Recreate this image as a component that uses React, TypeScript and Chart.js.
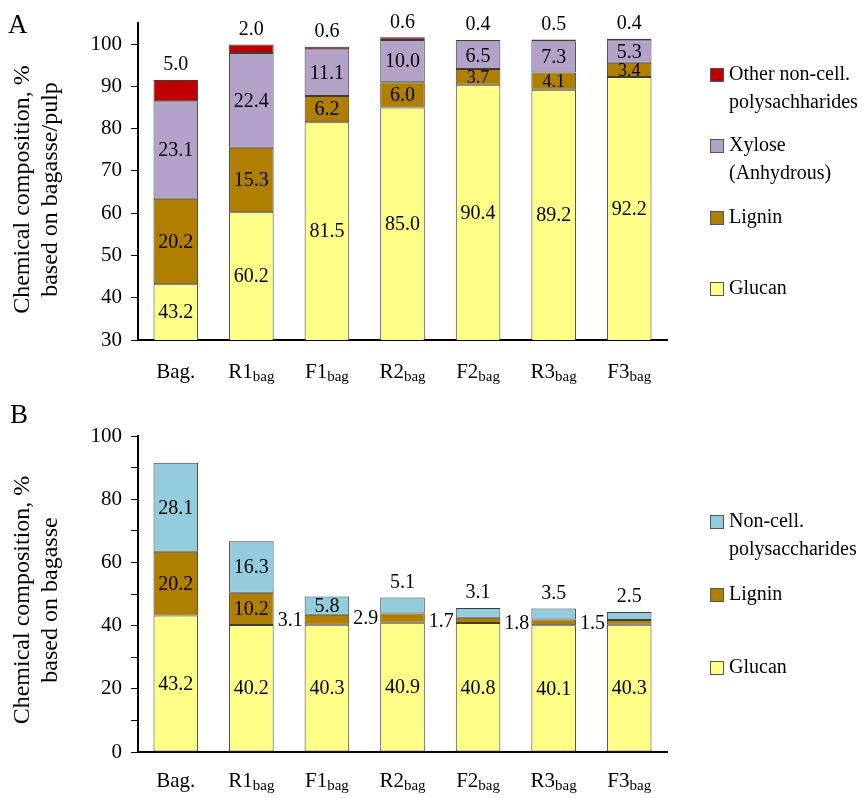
import React, { useEffect, useRef } from 'react';
import { Chart, registerables } from 'chart.js';

Chart.register(...registerables);

// ---------- data ----------
const categories = ['Bag.', 'R1', 'F1', 'R2', 'F2', 'R3', 'F3'];
const categorySubs = ['', 'bag', 'bag', 'bag', 'bag', 'bag', 'bag'];

// Panel A (based on bagasse/pulp)
const glucanA = [43.2, 60.2, 81.5, 85.0, 90.4, 89.2, 92.2];
const ligninA = [20.2, 15.3, 6.2, 6.0, 3.7, 4.1, 3.4];
const xyloseA = [23.1, 22.4, 11.1, 10.0, 6.5, 7.3, 5.3];
const otherA = [5.0, 2.0, 0.6, 0.6, 0.4, 0.5, 0.4];
const ticksA = [30, 40, 50, 60, 70, 80, 90, 100];

// Panel B (based on bagasse)
const glucanB = [43.2, 40.2, 40.3, 40.9, 40.8, 40.1, 40.3];
const ligninB = [20.2, 10.2, 3.1, 2.9, 1.7, 1.8, 1.5];
const noncellB = [28.1, 16.3, 5.8, 5.1, 3.1, 3.5, 2.5];
const ticksB = [0, 10, 20, 30, 40, 50, 60, 70, 80, 90, 100];
const tickLabelsB = [0, 20, 40, 60, 80, 100];

// label placement per bar: in = inside segment, above = over bar top, left = beside bar
const placeGlucanA = ['in', 'in', 'in', 'in', 'in', 'in', 'in'];
const placeLigninA = ['in', 'in', 'in', 'in', 'in', 'in', 'in'];
const placeXyloseA = ['in', 'in', 'in', 'in', 'in', 'in', 'in'];
const placeOtherA = ['above', 'above', 'above', 'above', 'above', 'above', 'above'];
const placeGlucanB = ['in', 'in', 'in', 'in', 'in', 'in', 'in'];
const placeLigninB = ['in', 'in', 'left', 'left', 'left', 'left', 'left'];
const placeNoncellB = ['in', 'in', 'in', 'above', 'above', 'above', 'above'];

const FONT = "'Liberation Serif', 'DejaVu Serif', serif";
const C_GLUCAN = '#FFFF88';
const C_LIGNIN = '#B07F00';
const C_XYLOSE = '#B3A2C7';
const C_OTHER = '#C00000';
const C_NONCELL = '#93CDDD';
const BORDER = '#3c3c3c';

type LegendItem = { color: string; lines: string[]; y: number };

const legendA: LegendItem[] = [
  { color: C_OTHER, lines: ['Other non-cell.', 'polysachharides'], y: 75 },
  { color: C_XYLOSE, lines: ['Xylose', '(Anhydrous)'], y: 146 },
  { color: C_LIGNIN, lines: ['Lignin'], y: 218 },
  { color: C_GLUCAN, lines: ['Glucan'], y: 289 },
];
const legendB: LegendItem[] = [
  { color: C_NONCELL, lines: ['Non-cell.', 'polysaccharides'], y: 127 },
  { color: C_LIGNIN, lines: ['Lignin'], y: 200 },
  { color: C_GLUCAN, lines: ['Glucan'], y: 273 },
];

const overlayPlugin = {
  id: 'overlay',
  afterDatasetsDraw(chart: any) {
    const ctx = chart.ctx;
    const area = chart.chartArea;
    ctx.save();
    ctx.fillStyle = '#000';
    chart.data.datasets.forEach((ds: any, di: number) => {
      const meta = chart.getDatasetMeta(di);
      meta.data.forEach((el: any, j: number) => {
        const v = ds.data[j];
        const mode = ds.place[j];
        const small = ds.small && ds.small[j];
        ctx.font = `${small ? 18 : 20}px ${FONT}`;
        ctx.textBaseline = 'middle';
        const top = Math.max(el.y, area.top);
        const bot = Math.min(el.base, area.bottom);
        const txt = v.toFixed(1);
        if (mode === 'in') {
          ctx.textAlign = 'center';
          ctx.fillText(txt, el.x, (top + bot) / 2 + 1);
        } else if (mode === 'above') {
          ctx.textAlign = 'center';
          ctx.fillText(txt, el.x, el.y - 15);
        } else {
          ctx.textAlign = 'right';
          ctx.fillText(txt, el.x - el.width / 2 - 2, (top + bot) / 2 + 1);
        }
      });
    });
    ctx.restore();
  },
  afterDraw(chart: any) {
    const ctx = chart.ctx;
    const area = chart.chartArea;
    const po = chart.options.plugins.overlay;
    const xs = chart.scales.x;
    ctx.save();
    ctx.fillStyle = '#000';
    // x labels with subscript
    categories.forEach((c, i) => {
      const cx = xs.getPixelForValue(i);
      ctx.font = `21px ${FONT}`;
      const w1 = ctx.measureText(c).width;
      ctx.font = `15px ${FONT}`;
      const sub = categorySubs[i];
      const w2 = sub ? ctx.measureText(sub).width : 0;
      const x0 = cx - (w1 + w2) / 2;
      const yb = area.bottom + po.xLabelOffset;
      ctx.textAlign = 'left';
      ctx.textBaseline = 'alphabetic';
      ctx.font = `21px ${FONT}`;
      ctx.fillText(c, x0, yb);
      if (sub) {
        ctx.font = `15px ${FONT}`;
        ctx.fillText(sub, x0 + w1, yb + 3);
      }
    });
    // y title
    ctx.font = `24px ${FONT}`;
    ctx.textAlign = 'center';
    ctx.textBaseline = 'middle';
    const cy = (area.top + area.bottom) / 2 + po.titleShift;
    po.yTitle.forEach((line: string, k: number) => {
      ctx.save();
      ctx.translate(23 + k * 28, cy);
      ctx.rotate(-Math.PI / 2);
      ctx.fillText(line, 0, 0);
      ctx.restore();
    });
    // panel letter
    ctx.font = `27px ${FONT}`;
    ctx.textAlign = 'left';
    ctx.textBaseline = 'alphabetic';
    ctx.fillText(po.letter, po.letterX, po.letterY);
    // legend
    po.legend.forEach((it: LegendItem) => {
      ctx.fillStyle = it.color;
      ctx.fillRect(710, it.y - 7, 14, 14);
      ctx.strokeStyle = '#555';
      ctx.lineWidth = 1;
      ctx.strokeRect(710.5, it.y - 6.5, 13, 13);
      ctx.fillStyle = '#000';
      ctx.font = `20px ${FONT}`;
      ctx.textBaseline = 'middle';
      it.lines.forEach((ln, k) => ctx.fillText(ln, 729, it.y + k * 28));
    });
    ctx.restore();
  },
};

function ds(label: string, data: number[], color: string, place: string[], small?: boolean[]) {
  return {
    label,
    data,
    backgroundColor: color,
    borderColor: BORDER,
    borderWidth: 1,
    borderSkipped: false,
    place,
    small,
    barPercentage: 0.59,
    categoryPercentage: 1.0,
  };
}

function makeConfig(
  datasets: any[],
  yMin: number,
  yMax: number,
  tickValues: number[],
  labelValues: number[],
  axisTop: number,
  axisBottom: number,
  canvasH: number,
  extra: any
) {
  return {
    type: 'bar',
    data: { labels: categories, datasets },
    plugins: [overlayPlugin],
    options: {
      animation: false,
      responsive: false,
      devicePixelRatio: 1,
      layout: { padding: { left: 0, top: axisTop, right: 867 - 667, bottom: 0 } },
      plugins: {
        legend: { display: false },
        tooltip: { enabled: false },
        overlay: extra,
      },
      scales: {
        x: {
          stacked: true,
          grid: { display: false, drawTicks: false },
          border: { display: true, color: '#000', width: 2 },
          ticks: { display: false },
          afterFit: (s: any) => {
            s.height = canvasH - axisBottom;
          },
        },
        y: {
          stacked: true,
          min: yMin,
          max: yMax,
          grid: { drawOnChartArea: false, drawTicks: true, tickLength: 7, color: '#000', lineWidth: 1 },
          border: { display: true, color: '#000', width: 2 },
          ticks: {
            padding: 9,
            color: '#000',
            font: { family: FONT, size: 21 },
            callback: (v: any) => (labelValues.includes(v) ? String(v) : ''),
          },
          afterBuildTicks: (s: any) => {
            s.ticks = tickValues.map((v) => ({ value: v }));
          },
          afterFit: (s: any) => {
            s.width = 138;
          },
        },
      },
    },
  };
}

export default function App() {
  const refA = useRef<HTMLCanvasElement>(null);
  const refB = useRef<HTMLCanvasElement>(null);

  useEffect(() => {
    const smallA = [false, false, false, false, true, true, true];
    const chartA = new Chart(
      refA.current as HTMLCanvasElement,
      makeConfig(
        [
          ds('Glucan', glucanA, C_GLUCAN, placeGlucanA),
          ds('Lignin', ligninA, C_LIGNIN, placeLigninA, smallA),
          ds('Xylose (Anhydrous)', xyloseA, C_XYLOSE, placeXyloseA),
          ds('Other non-cell. polysachharides', otherA, C_OTHER, placeOtherA),
        ],
        30,
        105,
        ticksA,
        ticksA,
        23,
        340,
        395,
        {
          letter: 'A',
          letterX: 8,
          letterY: 33,
          legend: legendA,
          yTitle: ['Chemical composition, %', 'based on bagasse/pulp'],
          titleShift: 8,
          xLabelOffset: 38,
        }
      ) as any
    );
    const chartB = new Chart(
      refB.current as HTMLCanvasElement,
      makeConfig(
        [
          ds('Glucan', glucanB, C_GLUCAN, placeGlucanB),
          ds('Lignin', ligninB, C_LIGNIN, placeLigninB),
          ds('Non-cell. polysaccharides', noncellB, C_NONCELL, placeNoncellB),
        ],
        0,
        100,
        ticksB,
        tickLabelsB,
        41,
        357,
        403,
        {
          letter: 'B',
          letterX: 10,
          letterY: 28,
          legend: legendB,
          yTitle: ['Chemical composition, %', 'based on bagasse'],
          titleShift: 6,
          xLabelOffset: 35,
        }
      ) as any
    );
    return () => {
      chartA.destroy();
      chartB.destroy();
    };
  }, []);

  return (
    <div style={{ position: 'absolute', left: 0, top: 0, width: 867, height: 798, background: '#fff' }}>
      <canvas ref={refA} width={867} height={395} style={{ position: 'absolute', left: 0, top: 0, width: 867, height: 395 }} />
      <canvas ref={refB} width={867} height={403} style={{ position: 'absolute', left: 0, top: 395, width: 867, height: 403 }} />
    </div>
  );
}
